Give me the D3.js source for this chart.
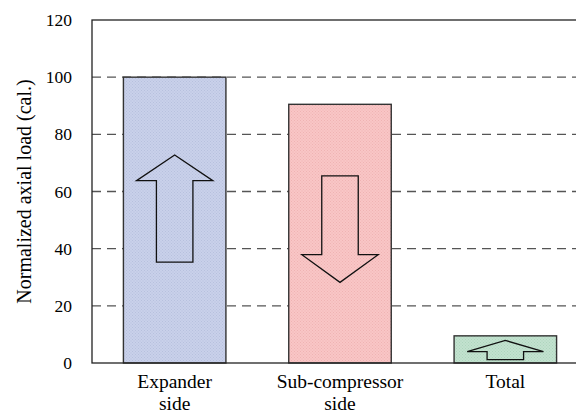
<!DOCTYPE html>
<html>
<head>
<meta charset="utf-8">
<script src="https://cdn.jsdelivr.net/npm/d3@7"></script>
<style>
  body { margin: 0; background: #fff; }
</style>
</head>
<body>
<div id="plot"></div>
<script>
// data
var categories = ["Expander side", "Sub-compressor side", "Total"];
var loads = [100, 90.5, 9.5];
var yTicks = [0, 20, 40, 60, 80, 100, 120];
// arrow annotations, in axis units: tail, base of head, tip
var arrowTail = [35.3, 65.5, 1.2];
var arrowHeadBase = [63.8, 37.9, 4.0];
var arrowTip = [72.8, 28.2, 7.9];
var fills = ["#c9d1ea", "#f9c6c6", "#c2e2cf"];
var fillsDark = ["#b7c0de", "#efb3b3", "#aed5bd"];

var serif = "Liberation Serif";
var width = 576, height = 419;
var marginLeft = 92, marginTop = 20, plotBottom = 363, plotRight = 588;

var svg = d3.select("#plot").append("svg")
  .attr("width", width)
  .attr("height", height)
  .attr("viewBox", [0, 0, width, height])
  .attr("font-family", serif);

// little dotted textures like the office chart fill
var defs = svg.append("defs");
fills.forEach(function(c, i) {
  var p = defs.append("pattern")
    .attr("id", "tex" + i)
    .attr("width", 3).attr("height", 3)
    .attr("patternUnits", "userSpaceOnUse");
  p.append("rect").attr("width", 3).attr("height", 3).attr("fill", c);
  p.append("rect").attr("x", 0).attr("y", 0).attr("width", 1).attr("height", 1).attr("fill", fillsDark[i]);
  p.append("rect").attr("x", 1.5).attr("y", 1.5).attr("width", 1).attr("height", 1).attr("fill", fillsDark[i]);
});

var x = d3.scaleBand()
  .domain(categories)
  .range([marginLeft, plotRight])
  .paddingInner(0.38)
  .paddingOuter(0.19);

var y = d3.scaleLinear()
  .domain([0, 120])
  .range([plotBottom, marginTop]);

// dashed grid
svg.append("g")
  .selectAll("line")
  .data(yTicks.filter(function(d) { return d > 0 && d < 120; }))
  .join("line")
  .attr("x1", marginLeft)
  .attr("x2", plotRight)
  .attr("y1", function(d) { return y(d); })
  .attr("y2", function(d) { return y(d); })
  .attr("stroke", "#555")
  .attr("stroke-width", 1.3)
  .attr("stroke-dasharray", "9,6");

// bars
svg.append("g")
  .selectAll("rect")
  .data(loads)
  .join("rect")
  .attr("x", function(d, i) { return x(categories[i]); })
  .attr("y", function(d) { return y(d); })
  .attr("width", x.bandwidth())
  .attr("height", function(d) { return y(0) - y(d); })
  .attr("fill", function(d, i) { return "url(#tex" + i + ")"; })
  .attr("stroke", "#333")
  .attr("stroke-width", 1.4);

// block arrows
var headHalf = x.bandwidth() * 0.372;
var shaftHalf = x.bandwidth() * 0.178;
svg.append("g")
  .selectAll("path")
  .data(categories)
  .join("path")
  .attr("d", function(c, i) {
    var cx = x(c) + x.bandwidth() / 2;
    var t = y(arrowTail[i]), b = y(arrowHeadBase[i]), p = y(arrowTip[i]);
    return "M" + (cx - shaftHalf) + "," + t +
      "L" + (cx - shaftHalf) + "," + b +
      "L" + (cx - headHalf) + "," + b +
      "L" + cx + "," + p +
      "L" + (cx + headHalf) + "," + b +
      "L" + (cx + shaftHalf) + "," + b +
      "L" + (cx + shaftHalf) + "," + t + "Z";
  })
  .attr("fill", "none")
  .attr("stroke", "#111")
  .attr("stroke-width", 1.3);

// plot frame
svg.append("rect")
  .attr("x", marginLeft)
  .attr("y", marginTop)
  .attr("width", plotRight - marginLeft)
  .attr("height", plotBottom - marginTop)
  .attr("fill", "none")
  .attr("stroke", "#222")
  .attr("stroke-width", 1.3);

// y axis labels
svg.append("g")
  .attr("transform", "translate(" + marginLeft + ",0)")
  .call(d3.axisLeft(y).tickValues(yTicks).tickSize(0).tickPadding(20))
  .attr("font-family", serif)
  .call(function(g) { g.select(".domain").remove(); })
  .call(function(g) {
    g.selectAll("text")
      .attr("font-family", serif)
      .attr("font-size", 17.5)
      .attr("fill", "#000");
  });

// x labels, two lines
var xl = svg.append("g")
  .selectAll("text")
  .data(categories)
  .join("text")
  .attr("x", function(c) { return x(c) + x.bandwidth() / 2; })
  .attr("y", 388)
  .attr("text-anchor", "middle")
  .attr("font-family", serif)
  .attr("font-size", 19.5)
  .attr("fill", "#000");
xl.each(function(c) {
  var words = c.split(" ");
  var t = d3.select(this);
  words.forEach(function(w, k) {
    t.append("tspan")
      .attr("x", t.attr("x"))
      .attr("dy", k === 0 ? 0 : 22)
      .text(w);
  });
});

// y title
svg.append("text")
  .attr("transform", "translate(31," + ((marginTop + plotBottom) / 2) + ") rotate(-90)")
  .attr("text-anchor", "middle")
  .attr("font-family", serif)
  .attr("font-size", 20)
  .attr("fill", "#000")
  .text("Normalized axial load (cal.)");
</script>
</body>
</html>
